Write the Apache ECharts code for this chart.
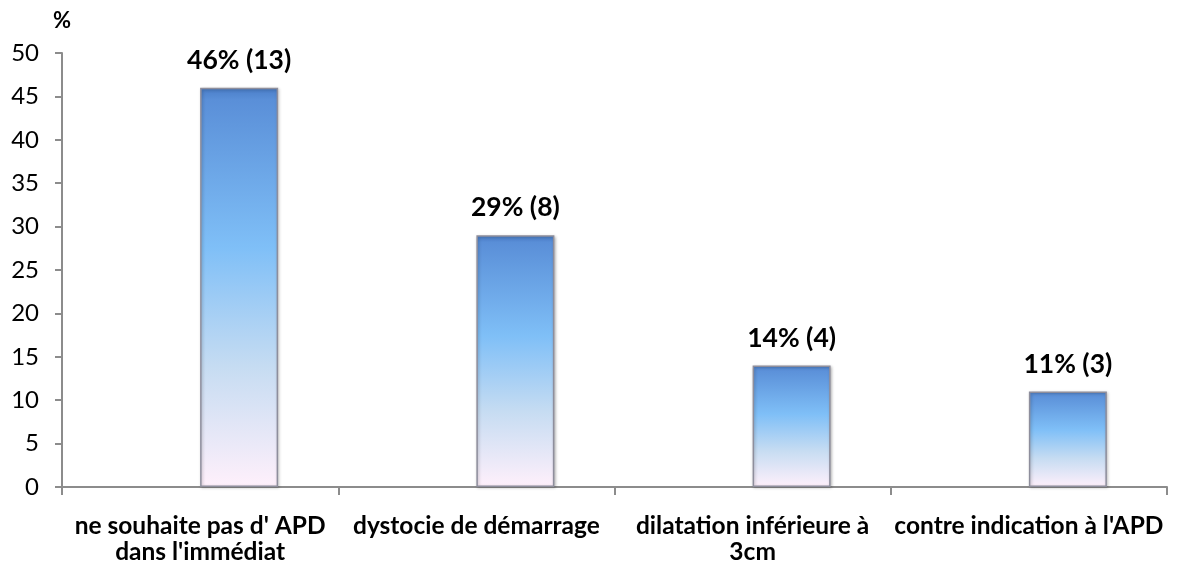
<!DOCTYPE html>
<html>
<head>
<meta charset="utf-8">
<script src="https://cdn.jsdelivr.net/npm/echarts@6/dist/echarts.min.js"></script>
<style>html,body{margin:0;padding:0;background:#fff;}#c{width:1182px;height:566px;}</style>
</head>
<body>
<div id="c"></div>
<script>
const categories = ["ne souhaite pas d' APD\ndans l'immédiat", "dystocie de démarrage", "dilatation inférieure à\n3cm", "contre indication à l'APD"];
const percentValues = [46, 29, 14, 11];
const counts = [13, 8, 4, 3];
const emptySeries = [null, null, null, null];
const yTicks = { min: 0, max: 50, interval: 5 };

const FONT = 'Lato, "Open Sans", sans-serif';
const chart = echarts.init(document.getElementById('c'), null, { renderer: 'canvas' });
chart.setOption({
  animation: false,
  backgroundColor: '#ffffff',
  grid: { left: 62, right: 15, top: 53, bottom: 79, containLabel: false },
  xAxis: {
    type: 'category',
    data: categories,
    axisLine: { lineStyle: { color: '#8c8c8c', width: 2 } },
    axisTick: { show: true, length: 8, lineStyle: { color: '#8c8c8c', width: 2 } },
    axisLabel: { color: '#000', fontFamily: FONT, fontWeight: 'bold', fontSize: 24.5, lineHeight: 26, margin: 26, interval: 0 }
  },
  yAxis: {
    type: 'value',
    min: yTicks.min, max: yTicks.max, interval: yTicks.interval,
    name: '%',
    nameLocation: 'end',
    nameGap: 21,
    nameTextStyle: { color: '#000', fontFamily: FONT, fontWeight: 'bold', fontSize: 22, align: 'center' },
    splitLine: { show: false },
    axisLine: { show: true, lineStyle: { color: '#8c8c8c', width: 2 } },
    axisTick: { show: true, length: 7, lineStyle: { color: '#8c8c8c', width: 2 } },
    axisLabel: { color: '#000', fontFamily: FONT, fontSize: 24, margin: 23 }
  },
  series: [
    { type: 'bar', data: emptySeries, barWidth: 78, barGap: '0%', silent: true },
    {
      type: 'bar',
      data: percentValues,
      barWidth: 78,
      barGap: '0%',
      itemStyle: {
        color: new echarts.graphic.LinearGradient(0, 0, 0, 1, [
          { offset: 0, color: '#4a7ec8' },
          { offset: 0.03, color: '#5a8fd8' },
          { offset: 0.4, color: '#7fbff7' },
          { offset: 0.7, color: '#c6dcf2' },
          { offset: 1, color: '#fff0fb' }
        ]),
        borderColor: '#8e8e9c',
        borderWidth: 1.5,
        shadowColor: 'rgba(0,0,0,0.25)',
        shadowBlur: 3,
        shadowOffsetX: 1,
        shadowOffsetY: 1
      },
      label: {
        show: true,
        position: 'top',
        distance: 14,
        color: '#000',
        fontFamily: FONT,
        fontWeight: 'bold',
        fontSize: 26.5,
        formatter: p => percentValues[p.dataIndex] + '% (' + counts[p.dataIndex] + ')'
      }
    }
  ]
});
</script>
</body>
</html>
